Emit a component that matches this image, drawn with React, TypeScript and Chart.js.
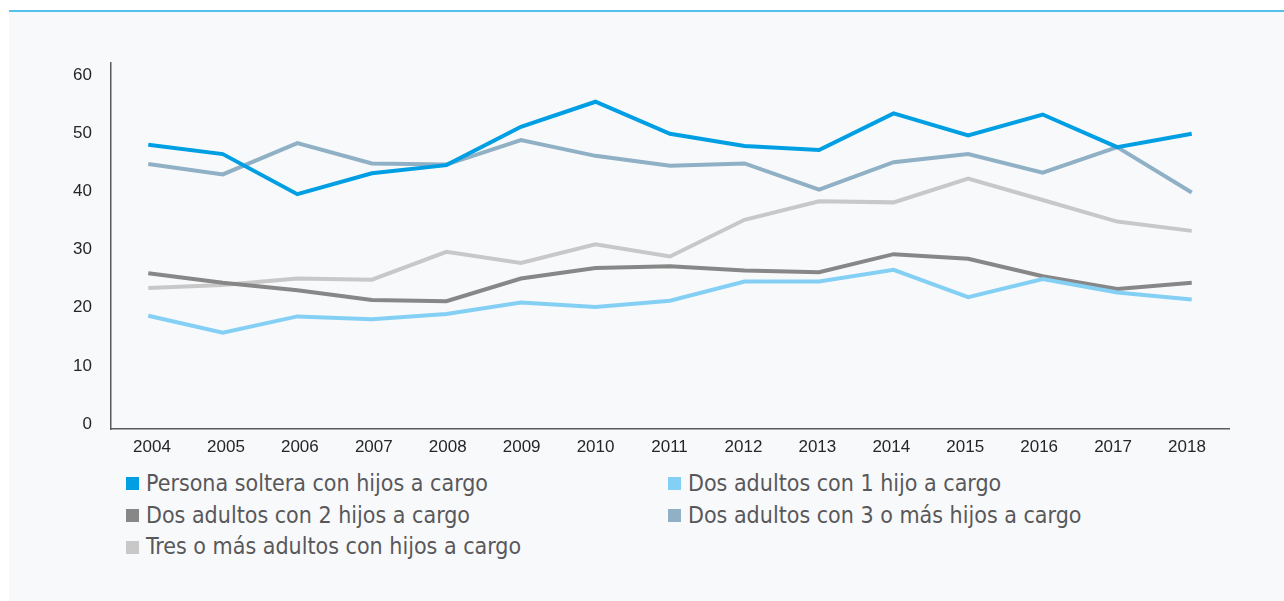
import React, { useEffect, useRef } from "react";
import { Chart, registerables } from "chart.js";

Chart.register(...registerables);

const YEARS = ["2004", "2005", "2006", "2007", "2008", "2009", "2010", "2011", "2012", "2013", "2014", "2015", "2016", "2017", "2018"];
const Y_TICKS = [0, 10, 20, 30, 40, 50, 60];

const SERIES_NAMES = [
  "Persona soltera con hijos a cargo",
  "Dos adultos con 1 hijo a cargo",
  "Dos adultos con 2 hijos a cargo",
  "Dos adultos con 3 o más hijos a cargo",
  "Tres o más adultos con hijos a cargo",
];

const SOLTERA = [48.0, 46.4, 39.5, 43.1, 44.5, 51.1, 55.4, 49.9, 47.8, 47.1, 53.4, 49.6, 53.2, 47.6, 49.9];
const UN_HIJO = [18.6, 15.7, 18.5, 18.0, 18.9, 20.9, 20.1, 21.2, 24.5, 24.5, 26.5, 21.8, 24.9, 22.6, 21.4];
const DOS_HIJOS = [25.9, 24.3, 23.0, 21.3, 21.1, 25.0, 26.8, 27.1, 26.4, 26.1, 29.2, 28.4, 25.4, 23.2, 24.3];
const TRES_HIJOS = [44.7, 42.9, 48.3, 44.8, 44.6, 48.8, 46.1, 44.4, 44.8, 40.3, 45.0, 46.4, 43.2, 47.6, 39.8];
const TRES_ADULTOS = [23.4, 23.9, 25.0, 24.8, 29.6, 27.7, 30.9, 28.8, 35.1, 38.3, 38.1, 42.2, 38.5, 34.8, 33.2];

const SERIES_VALUES = [SOLTERA, UN_HIJO, DOS_HIJOS, TRES_HIJOS, TRES_ADULTOS];
const SERIES_COLORS = ["#009fe3", "#84d0f5", "#878787", "#8fb0c5", "#c8c8c8"];

const TICK_FONT = { family: "'Liberation Sans', Arial, sans-serif", size: 17 };
const TICK_COLOR = "#262626";
const AXIS_COLOR = "#5a5a5a";

export default function App() {
  const canvasRef = useRef<HTMLCanvasElement | null>(null);

  useEffect(() => {
    const canvas = canvasRef.current;
    if (!canvas) return;
    const chart = new Chart(canvas, {
      type: "line",
      data: {
        labels: YEARS,
        datasets: SERIES_NAMES.map((name, i) => ({
          label: name,
          data: SERIES_VALUES[i],
          borderColor: SERIES_COLORS[i],
          backgroundColor: SERIES_COLORS[i],
          borderWidth: 4,
          pointRadius: 0,
          pointHoverRadius: 0,
          tension: 0,
          fill: false,
          xAxisID: "x",
          yAxisID: "y",
        })),
      },
      options: {
        responsive: false,
        animation: false,
        devicePixelRatio: 1,
        layout: { padding: { left: 0, top: 51, right: 55, bottom: 0 } },
        plugins: {
          legend: { display: false },
          tooltip: { enabled: false },
        },
        scales: {
          x: {
            type: "category",
            offset: true,
            display: false,
          },
          xl: {
            type: "linear",
            position: "bottom",
            min: -0.5546,
            max: 14.568,
            afterBuildTicks: (scale: any) => {
              scale.ticks = YEARS.map((_, i) => ({ value: i }));
            },
            afterFit: (scale: any) => {
              scale.height = 31;
            },
            grid: { display: false, drawTicks: false },
            border: { display: true, color: AXIS_COLOR, width: 1.5 },
            ticks: {
              padding: 8,
              autoSkip: false,
              maxRotation: 0,
              font: TICK_FONT,
              color: TICK_COLOR,
              callback: (v: any) => YEARS[Math.round(Number(v))] ?? "",
            },
          },
          y: {
            type: "linear",
            min: -0.86,
            max: 62.06,
            afterBuildTicks: (scale: any) => {
              scale.ticks = Y_TICKS.map((v) => ({ value: v }));
            },
            afterFit: (scale: any) => {
              scale.width = 102;
            },
            grid: { display: false, drawTicks: false },
            border: { display: true, color: AXIS_COLOR, width: 1.5 },
            ticks: {
              padding: 19,
              font: TICK_FONT,
              color: TICK_COLOR,
            },
          },
        },
      },
    });
    return () => chart.destroy();
  }, []);

  const legendFont = "'DejaVu Sans Condensed', 'Liberation Sans Narrow', sans-serif";

  return (
    <div style={{ position: "fixed", left: 0, top: 0, width: 1284, height: 601, background: "#ffffff", overflow: "hidden" }}>
      <div style={{ position: "absolute", left: 9, top: 10, right: 0, height: 2, background: "#55c0ea" }} />
      <div style={{ position: "absolute", left: 9, top: 12, right: 0, bottom: 0, background: "#f8f9fb" }} />
      <canvas
        ref={canvasRef}
        width={1275}
        height={448}
        style={{ position: "absolute", left: 9, top: 12, width: 1275, height: 448 }}
      />
      <div
        style={{
          position: "absolute",
          left: 126,
          top: 468,
          display: "grid",
          gridTemplateColumns: "542px 542px",
          fontFamily: legendFont,
          fontSize: 23,
          color: "#58585a",
        }}
      >
        {SERIES_NAMES.map((name, i) => (
          <div key={name} style={{ display: "flex", alignItems: "center", height: 31.7, lineHeight: "31.7px", whiteSpace: "nowrap" }}>
            <span style={{ display: "inline-block", width: 13, height: 13, background: SERIES_COLORS[i], marginRight: 7, flex: "0 0 auto" }} />
            <span>{name}</span>
          </div>
        ))}
      </div>
    </div>
  );
}
